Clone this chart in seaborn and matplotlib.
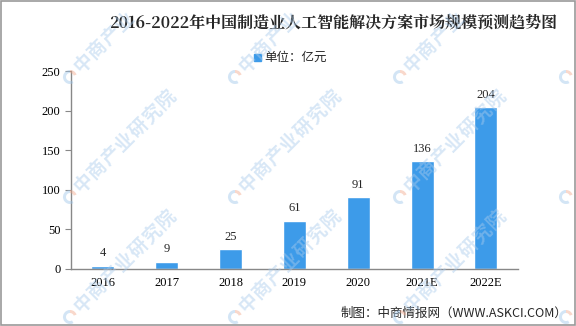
import matplotlib
matplotlib.use("Agg")
import matplotlib.pyplot as plt
import seaborn as sns
import pandas as pd
import numpy as np
from matplotlib.patches import Rectangle, Wedge

years = ["2016", "2017", "2018", "2019", "2020", "2021E", "2022E"]
values = [4, 9, 25, 61, 91, 136, 204]
yticks = [0, 50, 100, 150, 200, 250]

title = "2016-2022年中国制造业人工智能解决方案市场规模预测趋势图"
legend_label = "单位：亿元"
source = "制图：中商情报网（WWW.ASKCI.COM）"
watermark = "中商产业研究院"

sns.set_theme(style="white")
plt.rcParams["font.family"] = ["Noto Sans CJK SC", "DejaVu Sans"]

bar_color = "#3d9be9"
serif = ["Liberation Serif", "DejaVu Serif"]
df = pd.DataFrame({"year": years, "value": values})

W, H = 576, 326
fig = plt.figure(figsize=(W / 100, H / 100), dpi=100)
ax = fig.add_axes([0.123, 0.175, 0.776, 0.607])

sns.barplot(data=df, x="year", y="value", color=bar_color, width=0.36,
            saturation=1, ax=ax)

ax.set_ylim(0, 250)
ax.set_yticks(yticks)
ax.set_xlim(-0.5, len(years) - 0.5)
ax.set_xlabel("")
ax.set_ylabel("")
for s in ["top", "right"]:
    ax.spines[s].set_visible(False)
for s in ["left", "bottom"]:
    ax.spines[s].set_color("#888888")
    ax.spines[s].set_linewidth(1.0)
ax.tick_params(axis="both", labelsize=9, colors="#000000", length=4,
               direction="out", left=True, bottom=True, width=0.8)
ax.tick_params(axis="y", color="#888888")
ax.tick_params(axis="x", length=0, pad=6)
# category separators on the x axis
ax.set_xticks([i - 0.5 for i in range(len(years) + 1)], minor=True)
ax.tick_params(axis="x", which="minor", length=4, color="#888888", width=0.8)
for lab in ax.get_xticklabels() + ax.get_yticklabels():
    lab.set_family(serif)

for p, v in zip(ax.patches, values):
    ax.text(p.get_x() + p.get_width() / 2, v + 8, f"{v}", ha="center",
            va="bottom", fontsize=9, family=serif)

fig.text(0.578, 0.932, title, ha="center", va="center", fontsize=11.5,
         fontweight="bold", family=["Noto Serif CJK SC", "Noto Sans CJK SC", "DejaVu Sans"])

# legend marker and label
fig.patches.append(Rectangle((254 / W, 1 - 61 / H), 7 / W, 7 / H,
                             transform=fig.transFigure, color=bar_color))
fig.text(264 / W, 1 - 57 / H, legend_label, ha="left", va="center", fontsize=9)

fig.text(0.985, 1 - 313 / H, source, ha="right", va="center", fontsize=9)

# tiled diagonal watermark drawn in pixel coordinates over the whole figure;
# characters are placed one by one so only those on the canvas are drawn
over = fig.add_axes([0, 0, 1, 1], zorder=5)
over.set_xlim(0, W)
over.set_ylim(H, 0)
over.axis("off")
over.patch.set_alpha(0)
step = 19.5
d = np.array([np.cos(np.pi / 4), -np.sin(np.pi / 4)])
margin = 13
for lx in [-95, 70, 235, 400, 566]:
    for ly in [-43, 77, 197, 317]:
        if 0 <= lx <= W and 0 <= ly <= H:
            over.add_patch(Wedge((lx, ly), 7, 60, 270, width=3,
                                 color="#9fc6ea", alpha=0.45, lw=0))
            over.add_patch(Wedge((lx, ly), 7, 270, 340, width=3,
                                 color="#f3a98c", alpha=0.45, lw=0))
        start = np.array([lx + 7, ly - 7])
        for i, ch in enumerate(watermark):
            cx, cy = start + (i + 0.5) * step * d
            if margin <= cx <= W - margin and margin <= cy <= H - margin:
                over.text(cx, cy, ch, rotation=45, rotation_mode="anchor",
                          ha="center", va="center", fontsize=13.5,
                          fontweight="bold", color="#a9cbec", alpha=0.45)

# figure border
fig.patches.append(Rectangle((0.001, 0.002), 0.997, 0.995, transform=fig.transFigure,
                             fill=False, edgecolor="#999999", lw=1.2, zorder=10))

fig.savefig("out.png", dpi=100)
